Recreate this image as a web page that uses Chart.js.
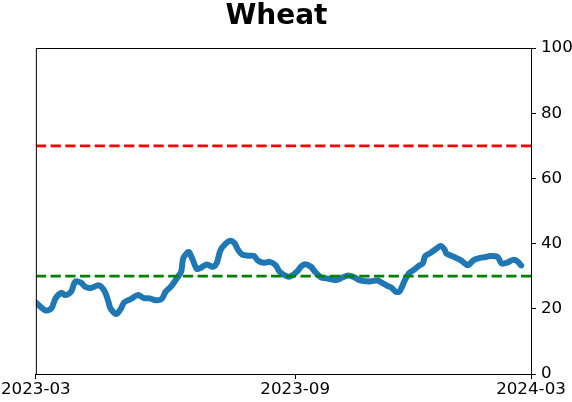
<!DOCTYPE html>
<html>
<head>
<meta charset="utf-8">
<script src="https://cdn.jsdelivr.net/npm/chart.js@4"></script>
<style>
html,body{margin:0;padding:0;background:#fff;}
#wrap{width:572px;height:402px;position:relative;}
</style>
</head>
<body>
<div id="wrap"><canvas id="c" width="572" height="402"></canvas></div>
<script>
const titleText = "Wheat";
// trading-day index along the x axis
const dayIndex = [0,3,5,8,10,13,15,18,20,23,25,28,32,35,37,38,41,43,45,48,52,55,58,61,64,66,69,72,74,75,77,78,80,82,84,87,90,92,94,97,99,101,103,105,108,111,113,116,119,122,124,128,130,133,135,137,140,142,145,147,150,153,156,159,162,164,166,170,174,176,179,181,183,185,186,188,190,192,195,197,198,201,204,206,208,209,213,216,219,220,223,226,229,231,235,237,239,240,243,245,247];
const wheatValues = [21.9,20.3,19.5,20.2,23.2,24.9,24.2,25.3,28.3,28.0,26.8,26.4,27.2,25.4,22.0,20.1,18.4,19.8,22.0,22.9,24.2,23.3,23.2,22.6,23.0,25.2,27.0,29.6,31.5,35.5,37.2,37.4,34.8,32.2,32.6,33.6,32.9,34.0,38.0,40.2,40.9,40.2,38.0,36.6,36.3,36.2,34.8,34.1,34.4,33.4,31.4,29.9,30.1,31.5,33.0,33.7,32.9,31.4,29.7,29.4,29.1,28.8,29.6,30.2,29.7,29.0,28.6,28.4,28.7,28.0,27.0,26.5,25.3,25.3,26.3,29.0,31.0,31.8,33.2,34.0,36.0,37.2,38.5,39.3,38.2,36.9,35.9,35.0,33.6,33.4,35.0,35.6,35.9,36.2,35.9,33.9,34.0,34.2,35.0,34.6,33.3];
const xTickValues = [0, 132, 252];
const xTickLabels = ["2023-03", "2023-09", "2024-03"];
const xMin = 0, xMax = 252;
const upperLevel = 70;
const lowerLevel = 30;
const yMin = 0, yMax = 100, yStep = 20;

const seriesPoints = dayIndex.map((d, i) => ({x: d, y: wheatValues[i]}));
const upperPoints = [{x: xMin, y: upperLevel}, {x: xMax, y: upperLevel}];
const lowerPoints = [{x: xMin, y: lowerLevel}, {x: xMax, y: lowerLevel}];

const framePlugin = {
  id: 'frame',
  afterDraw(chart) {
    const {ctx, chartArea: a} = chart;
    ctx.save();
    ctx.strokeStyle = '#000';
    ctx.lineWidth = 1;
    ctx.strokeRect(a.left + 0.5, a.top + 0.5, a.right - a.left, a.bottom - a.top);
    ctx.restore();
  }
};
const titlePlugin = {
  id: 'mtitle',
  afterDraw(chart) {
    const {ctx, chartArea: a} = chart;
    ctx.save();
    ctx.fillStyle = '#000';
    ctx.font = 'bold 28px "DejaVu Sans"';
    ctx.textAlign = 'center';
    ctx.textBaseline = 'alphabetic';
    ctx.fillText(titleText, (a.left + a.right) / 2 - 7, 24);
    ctx.restore();
  }
};

const tickFont = {family: 'DejaVu Sans', size: 16.7};

new Chart(document.getElementById('c'), {
  type: 'line',
  data: {
    datasets: [
      {data: upperPoints, borderColor: '#ff0000', borderWidth: 2.8, borderDash: [10.3, 4.4], pointRadius: 0, fill: false},
      {data: lowerPoints, borderColor: '#008000', borderWidth: 2.8, borderDash: [10.3, 4.4], pointRadius: 0, fill: false},
      {data: seriesPoints, borderColor: '#1f77b4', borderWidth: 6, pointRadius: 0, fill: false, tension: 0.3, borderCapStyle: 'round', borderJoinStyle: 'round'}
    ]
  },
  options: {
    responsive: false,
    animation: false,
    devicePixelRatio: 1,
    layout: {padding: {left: 35, top: 48, right: 0, bottom: 0}},
    plugins: {legend: {display: false}, tooltip: {enabled: false}, title: {display: false}},
    scales: {
      x: {
        type: 'linear', position: 'bottom', min: xMin, max: xMax,
        afterBuildTicks(scale) { scale.ticks = xTickValues.map(v => ({value: v})); },
        afterFit(scale) { scale.height = 28; },
        ticks: {
          color: '#000', font: tickFont, padding: 1, maxRotation: 0, autoSkip: false,
          callback(v) { const i = xTickValues.indexOf(v); return i >= 0 ? xTickLabels[i] : ''; }
        },
        grid: {drawOnChartArea: false, drawTicks: true, tickLength: 5, color: '#000', tickWidth: 1},
        border: {display: true, color: '#000', width: 1}
      },
      y: {
        position: 'right', min: yMin, max: yMax,
        afterFit(scale) { scale.width = 41; },
        ticks: {stepSize: yStep, color: '#000', font: tickFont, padding: 5},
        grid: {drawOnChartArea: false, drawTicks: true, tickLength: 5, color: '#000', tickWidth: 1},
        border: {display: true, color: '#000', width: 1}
      }
    }
  },
  plugins: [framePlugin, titlePlugin]
});
</script>
</body>
</html>
